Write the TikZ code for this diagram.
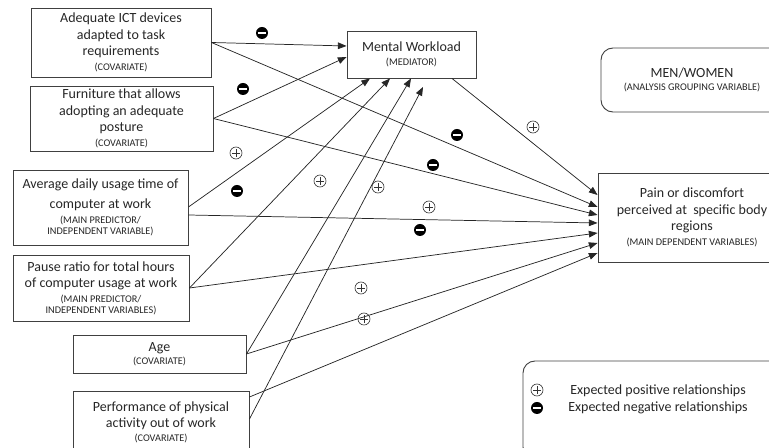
\documentclass[tikz,border=0pt]{standalone}
\usepackage{fontspec}
\setmainfont{Carlito}
\usetikzlibrary{arrows.meta}

\newcommand{\vartype}[1]{{\fontsize{7.7}{8.5}\selectfont #1}}

\begin{document}
\begin{tikzpicture}[x=0.75pt,y=0.75pt,yscale=-1,xscale=1,
  varbox/.style={draw=black!75,line width=0.7pt,align=center,inner sep=1pt,text=black!85,
    font=\fontsize{10.5}{12.5}\selectfont},
  roundbox/.style={varbox,rounded corners=9pt},
  link/.style={draw=black!85,line width=0.55pt,-{Triangle[length=6.5pt,width=5pt]}},
  posmark/.style={circle,draw=black!80,line width=0.5pt,minimum size=9pt,inner sep=0pt,
    path picture={\draw[line width=0.5pt,black!80]
      ([xshift=-2.8pt]path picture bounding box.center) -- ([xshift=2.8pt]path picture bounding box.center)
      ([yshift=-2.8pt]path picture bounding box.center) -- ([yshift=2.8pt]path picture bounding box.center);}},
  negmark/.style={circle,fill=black,minimum size=9pt,inner sep=0pt,
    path picture={\draw[line width=1.4pt,white]
      ([xshift=-2.8pt]path picture bounding box.center) -- ([xshift=2.8pt]path picture bounding box.center);}},
  keytext/.style={anchor=west,inner sep=0pt,text=black!85,font=\fontsize{10.5}{12.5}\selectfont}
]
\useasboundingbox (0,0) rectangle (769,448);

% predictors and covariates
\node[varbox,minimum width=135pt,minimum height=51.75pt] (ict) at (121,42.5)
  {Adequate ICT devices\\adapted to task\\requirements\\[-1.5pt]\vartype{(COVARIATE)}};
\node[varbox,minimum width=137.25pt,minimum height=48.75pt] (furn) at (121.5,118.5)
  {Furniture that allows\\adopting an adequate\\posture\\[-1.5pt]\vartype{(COVARIATE)}};
\node[varbox,minimum width=131.25pt,minimum height=56.25pt] (avg) at (100.5,207.5)
  {Average daily usage time of\\[2pt]computer at work\\[-1pt]\vartype{(MAIN PREDICTOR/}\\[-4.5pt]\vartype{INDEPENDENT VARIABLE)}};
\node[varbox,minimum width=132pt,minimum height=49.5pt] (pause) at (101,288)
  {Pause ratio for total hours\\of computer usage at work\\[-1.5pt]\vartype{(MAIN PREDICTOR/}\\[-4.5pt]\vartype{INDEPENDENT VARIABLES)}};
\node[varbox,minimum width=129.75pt,minimum height=28.5pt] (age) at (159.5,354)
  {Age\\[-2.5pt]\vartype{(COVARIATE)}};
\node[varbox,minimum width=132pt,minimum height=46.5pt] (perf) at (161,422)
  {Performance of physical\\activity out of work\\[-2.5pt]\vartype{(COVARIATE)}};

% mediator, outcome, grouping
\node[varbox,minimum width=96.75pt,minimum height=35.25pt] (mw) at (411.5,54.5)
  {Mental Workload\\[-2.5pt]\vartype{(MEDIATOR)}};
\node[varbox,minimum width=141pt,minimum height=66.75pt] (pain) at (692,217.5)
  {Pain or discomfort\\perceived at\ \ specific body\\regions\\[-1.5pt]\vartype{(MAIN DEPENDENT VARIABLES)}};
\node[roundbox,minimum width=136.5pt,minimum height=48pt] (grp) at (692,80)
  {MEN/WOMEN\\[-3pt]\vartype{(ANALYSIS GROUPING VARIABLE)}};

% paths to the mediator
\coordinate (mwlow) at (423,87);
\draw[link] (ict.east) -- (mw.west |- 0,46);
\draw[link] (furn.east) -- (mw.west |- 0,57);
\draw[link] (avg.east |- 0,207) -- (370,0 |- mw.south);
\draw[link] (pause.east) -- (390,0 |- mw.south);
\draw[link] (age.east) -- (411,0 |- mw.south);
\draw[link] (perf.east |- 0,419) -- (mwlow);

% paths to the outcome
\draw[link] (452,0 |- mw.south) -- (pain.west |- 0,195);
\draw[link] (ict.east) -- (pain.west |- 0,207);
\draw[link] (furn.east) -- (pain.west |- 0,215);
\draw[link] (avg.east |- 0,215) -- (pain.west |- 0,223);
\draw[link] (pause.east) -- (pain.west |- 0,233);
\draw[link] (age.east) -- (pain.west |- 0,243);
\draw[link] (perf.east |- 0,397) -- (pain.west |- 0,253);

% expected signs
\node[negmark] (n1) at (262,33) {};
\node[negmark] (n2) at (243,89) {};
\node[posmark] (p1) at (236,153) {};
\node[negmark] (n3) at (237,191) {};
\node[posmark] (p2) at (320,181) {};
\node[posmark] (p3) at (378,187) {};
\node[negmark] (n4) at (457,135) {};
\node[negmark] (n5) at (433,165) {};
\node[posmark] (p4) at (429,207) {};
\node[negmark] (n6) at (420,230) {};
\node[posmark] (p5) at (533,127) {};
\node[posmark] (p6) at (361,288) {};
\node[posmark] (p7) at (364,319) {};

% legend
\node[roundbox,minimum width=196.5pt,minimum height=73.5pt] (key) at (654,410) {};
\node[posmark] (keypos) at (537,390) {};
\node[negmark] (keyneg) at (537,408) {};
\node[keytext] (keypostxt) at (570,391) {Expected positive relationships};
\node[keytext] (keynegtxt) at (568,408) {Expected negative relationships};
\end{tikzpicture}
\end{document}
